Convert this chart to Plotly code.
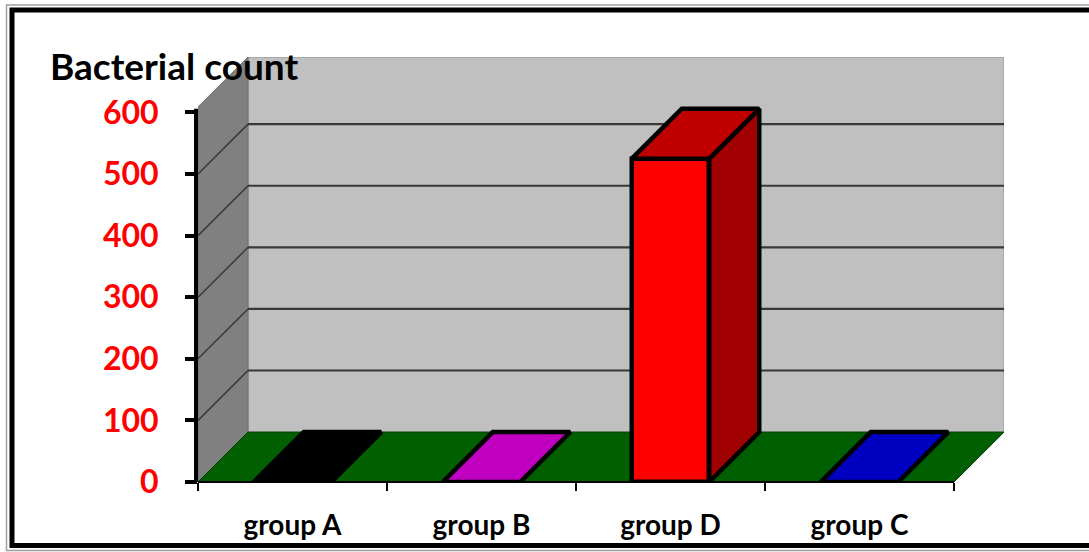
import plotly.graph_objects as go

# ---------------- data ----------------
categories = ["group A", "group B", "group D", "group C"]
counts = [0, 0, 525, 0]
front_colors = ["#000000", "#C000C0", "#FF0000", "#0000C0"]
top_colors = ["#000000", "#C000C0", "#C00000", "#0000C0"]
side_colors = ["#000000", "#A000A0", "#A00000", "#0000A0"]
y_ticks = [0, 100, 200, 300, 400, 500, 600]
y_title = "Bacterial count"

# ---------------- geometry / style ----------------
W, H = 1089, 552
ML, MR, MT, MB = 198, 85, 57, 70
DX = 0.2646        # depth offset (category units)
DY = 81            # depth offset (value units)
BAR_W = 0.41
OUTLINE = 4.5
n = len(categories)
X_MIN, X_MAX = -0.5, n - 0.5 + DX
Y_MAX = 690
WALL_TOP = Y_MAX - DY   # front value of wall top
FONT = "Lato"

PW, PH = W - ML - MR, H - MT - MB


def px_x(p):
    return (p - ML) / PW


def px_y(p):
    return (H - MB - p) / PH


fig = go.Figure()
xs = list(range(n))

# front faces of bars
fig.add_trace(go.Bar(
    x=xs, y=counts, width=BAR_W,
    marker=dict(color=front_colors, line=dict(color="black", width=OUTLINE)),
    hoverinfo="skip", showlegend=False,
))

# top and side faces
for i, v in enumerate(counts):
    x0, x1 = i - BAR_W / 2, i + BAR_W / 2
    if v > 0:
        fig.add_trace(go.Scatter(
            x=[x1, x1 + DX, x1 + DX, x1, x1], y=[0, DY, v + DY, v, 0],
            fill="toself", fillcolor=side_colors[i], mode="lines",
            line=dict(color="black", width=OUTLINE), hoverinfo="skip", showlegend=False,
        ))
    fig.add_trace(go.Scatter(
        x=[x0, x1, x1 + DX, x0 + DX, x0], y=[v, v, v + DY, v + DY, v],
        fill="toself", fillcolor=top_colors[i], mode="lines",
        line=dict(color="black", width=OUTLINE), hoverinfo="skip", showlegend=False,
    ))

shapes = []
# back wall
shapes.append(dict(type="rect", xref="x", yref="y", x0=X_MIN + DX, x1=X_MAX, y0=DY, y1=Y_MAX,
                   fillcolor="#C0C0C0", line=dict(color="#A8A8A8", width=2), layer="below"))
# side wall
shapes.append(dict(type="path", xref="x", yref="y",
                   path=f"M {X_MIN},0 L {X_MIN},{WALL_TOP} L {X_MIN + DX},{Y_MAX} L {X_MIN + DX},{DY} Z",
                   fillcolor="#808080", line=dict(color="#707070", width=1), layer="below"))
# gridlines on walls
for t in y_ticks[1:-1]:
    shapes.append(dict(type="line", xref="x", yref="y", x0=X_MIN + DX, x1=X_MAX, y0=t + DY, y1=t + DY,
                       line=dict(color="#383838", width=2.2), layer="below"))
    shapes.append(dict(type="line", xref="x", yref="y", x0=X_MIN, x1=X_MIN + DX, y0=t, y1=t + DY,
                       line=dict(color="#383838", width=1.5), layer="below"))
# floor
shapes.append(dict(type="path", xref="x", yref="y",
                   path=f"M {X_MIN},0 L {n - 0.5},0 L {X_MAX},{DY} L {X_MIN + DX},{DY} Z",
                   fillcolor="#005F00", line=dict(color="#004000", width=1), layer="below"))
# x axis line
shapes.append(dict(type="line", xref="x", yref="paper", x0=X_MIN, x1=n - 0.5, y0=0, y1=0,
                   line=dict(color="black", width=2), layer="above"))
# y axis line
shapes.append(dict(type="line", xref="paper", yref="y", x0=-2 / PW, x1=-2 / PW, y0=0, y1=y_ticks[-1] + 6,
                   line=dict(color="black", width=4), layer="above"))
# outer frame
shapes.append(dict(type="rect", xref="paper", yref="paper",
                   x0=px_x(6.5), x1=px_x(W + 20), y0=px_y(550.5), y1=px_y(5),
                   line=dict(color="#A0A0A0", width=1.5), fillcolor="rgba(0,0,0,0)", layer="above"))
shapes.append(dict(type="rect", xref="paper", yref="paper",
                   x0=px_x(12), x1=px_x(W + 20), y0=px_y(545.5), y1=px_y(10),
                   line=dict(color="black", width=5), fillcolor="rgba(0,0,0,0)", layer="above"))

fig.update_layout(
    width=W, height=H,
    margin=dict(l=ML, r=MR, t=MT, b=MB),
    paper_bgcolor="white", plot_bgcolor="rgba(0,0,0,0)",
    shapes=shapes,
    showlegend=False,
    bargap=0,
    title=dict(text=y_title, x=50 / W, xanchor="left", xref="container",
               y=1 - 67 / H, yanchor="middle", yref="container",
               font=dict(family=FONT, size=37, color="black", weight="bold")),
    xaxis=dict(range=[X_MIN, X_MAX], tickmode="array", tickvals=xs, ticktext=categories,
               showgrid=False, zeroline=False, showline=False, ticks="",
               tickfont=dict(family=FONT, size=28, color="black", weight="bold"),
               ticklabelstandoff=24,
               minor=dict(tickmode="array", tickvals=[k - 0.5 for k in range(n + 1)],
                          ticks="outside", ticklen=8, tickwidth=1.5, tickcolor="black", showgrid=False)),
    yaxis=dict(range=[0, Y_MAX], tickmode="array", tickvals=y_ticks,
               showgrid=False, zeroline=False, showline=False,
               ticks="outside", ticklen=12, tickwidth=4, tickcolor="black",
               ticklabelstandoff=20,
               tickfont=dict(family=FONT, size=32, color="red", weight="bold")),
)

fig.write_html("out.html", config={"displayModeBar": False},
               post_script="document.body.style.margin='0';document.body.style.overflow='hidden';")
